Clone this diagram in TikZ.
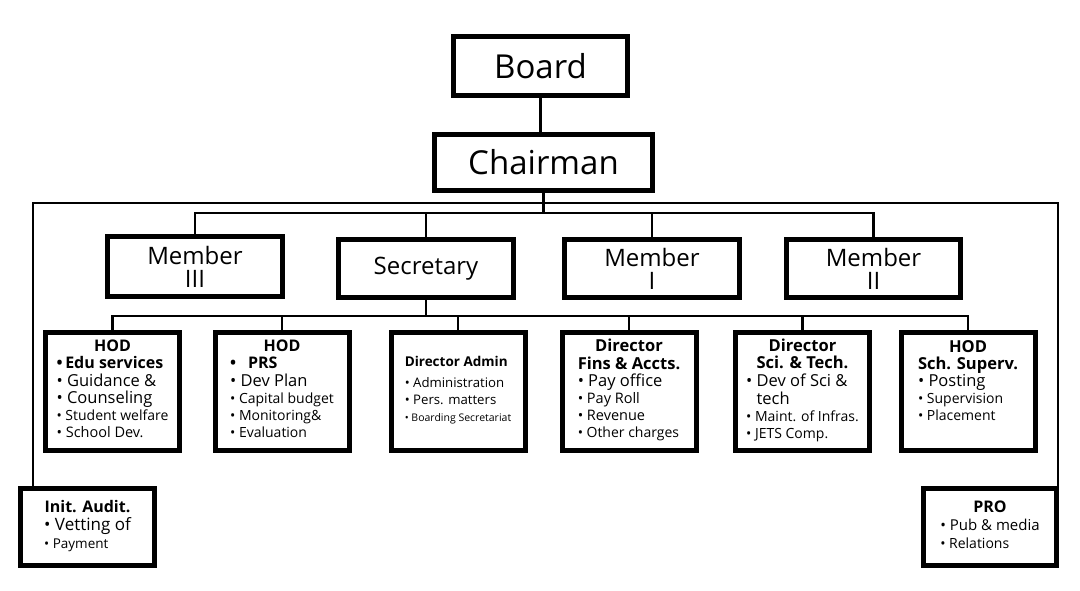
\documentclass[tikz,border=0pt]{standalone}
\usepackage{fontspec}
\setmainfont{Open Sans}
\newcommand{\fsz}[1]{\fontsize{#1}{17}\selectfont}
\newcommand{\hd}[2]{\multicolumn{1}{@{}c@{}}{\fsz{#1}\bfseries #2}}

\begin{document}
\begin{tikzpicture}[x=1pt, y=-1pt,
    box/.style={rectangle, draw, line width=5pt, fill=white, inner sep=0pt, align=center},
    topbox/.style={box, font=\fontsize{33}{36}\selectfont},
    membox/.style={box, minimum width=174.5pt, minimum height=58.5pt, font=\fontsize{24}{23}\selectfont},
    deptbox/.style={box, minimum width=134pt, minimum height=118pt, font=\fontsize{14}{17}\selectfont},
    sidebox/.style={box, minimum width=133.5pt, minimum height=77pt, font=\fontsize{14}{18}\selectfont},
    link/.style={line width=2.2pt},
]
\useasboundingbox[fill=white] (0,0) rectangle (1080,591);

% Top
\node[topbox, minimum width=174pt, minimum height=59pt] (board) at (540.5,66) {Board};
\node[topbox, minimum width=218pt, minimum height=56pt] (chair) at (543.5,162.5) {Chairman};

% Members and secretary
\node[membox, minimum height=60pt] (mem3) at (195,266.5) {Member\\III};
\node[membox] (sec) at (426,268.7) {Secretary};
\node[membox] (mem1) at (652,268.7) {Member\\I};
\node[membox] (mem2) at (873.5,268.7) {Member\\II};

% Departments
\node[deptbox] (edu) at (112.5,391) {\begin{tabular}{@{}l@{}}
    \hd{16}{HOD}\\
    \fsz{16}\bfseries •\,Edu services\\
    \fsz{16.5}• Guidance \&\\
    \fsz{16.5}• Counseling\\
    \fsz{14}• Student welfare\\
    \fsz{14.5}• School Dev.
\end{tabular}};
\node[deptbox] (prs) at (282,391) {\begin{tabular}{@{}l@{}}
    \hd{16}{HOD}\\
    \fsz{16}\bfseries •\hspace{12pt}PRS\\
    \fsz{16.5}• Dev Plan\\
    \fsz{14}• Capital budget\\
    \fsz{14}• Monitoring\&\\
    \fsz{14}• Evaluation
\end{tabular}};
\node[deptbox] (adm) at (458,391) {\begin{tabular}{@{}l@{}}
    \fsz{13.5}\bfseries Director Admin\\[4pt]
    \fsz{13.2}• Administration\\
    \fsz{13.2}• Pers. matters\\
    \fsz{10.5}• Boarding Secretariat
\end{tabular}};
\node[deptbox] (fins) at (629,391) {\begin{tabular}{@{}l@{}}
    \hd{16.5}{Director}\\
    \hd{16.5}{Fins \& Accts.}\\
    \fsz{16.5}• Pay office\\
    \fsz{14.5}• Pay Roll\\
    \fsz{14.5}• Revenue\\
    \fsz{14}• Other charges
\end{tabular}};
\node[deptbox] (sci) at (802.5,391) {\begin{tabular}{@{}l@{}}
    \hd{16.5}{Director}\\
    \hd{16.5}{Sci. \& Tech.}\\
    \fsz{16.5}• Dev of Sci \&\\
    \fsz{16.5}\phantom{•}\ tech\\
    \fsz{14}• Maint. of Infras.\\
    \fsz{14}• JETS Comp.
\end{tabular}};
\node[deptbox] (sch) at (968,391) {\begin{tabular}{@{}l@{}}
    \hd{16.5}{HOD}\\
    \hd{16.5}{Sch. Superv.}\\
    \fsz{16.5}• Posting\\
    \fsz{14}• Supervision\\
    \fsz{14}• Placement\\[16pt]
\end{tabular}};

% Side offices
\node[sidebox] (audit) at (87.5,527) {\begin{tabular}{@{}l@{}}
    \hd{16}{Init. Audit.}\\
    \fsz{17}• Vetting of\\
    \fsz{13.5}• Payment
\end{tabular}};
\node[sidebox, minimum width=133pt] (pro) at (990,527) {\begin{tabular}{@{}l@{}}
    \hd{16}{PRO}\\
    \fsz{15}• Pub \& media\\
    \fsz{14}• Relations
\end{tabular}};

% Bus points
\coordinate (busM) at (545,212.7);
\coordinate (busD) at (423.6,316);
\coordinate (outL) at (32.7,203.4);
\coordinate (outR) at (1058,203.4);

% Connectors
\draw[link] (board.south) -- (board.south |- chair.north);
\draw[link] (chair.south) -- (chair.south |- busM);
\draw[link] (mem3.north) |- (busM) -| (mem2.north);
\foreach \n in {sec,mem1}
    \draw[link] (\n.north) -- (\n.north |- busM);
\draw[link] (sec.south) -- (sec.south |- busD);
\draw[link] (edu.north) |- (busD) -| (sch.north);
\foreach \n in {prs,adm,fins,sci}
    \draw[link] (\n.north) -- (\n.north |- busD);
\draw[link] (outL |- audit.north) -- (outL) -- (outR) -- (outR |- pro.north);

\end{tikzpicture}
\end{document}
